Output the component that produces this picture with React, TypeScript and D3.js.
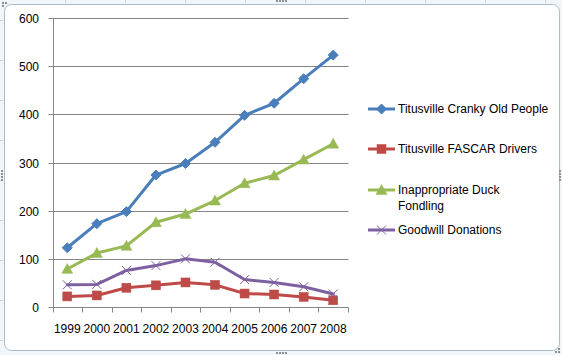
import React from "react";
import * as d3 from "d3";

const years = ["1999", "2000", "2001", "2002", "2003", "2004", "2005", "2006", "2007", "2008"];
const crankyOldPeople = [124, 174, 199, 275, 299, 343, 399, 424, 475, 524];
const fascarDrivers = [23, 25, 41, 46, 52, 47, 29, 27, 22, 15];
const duckFondling = [80, 113, 128, 177, 194, 222, 258, 274, 307, 340];
const goodwillDonations = [47, 48, 77, 87, 101, 94, 58, 52, 43, 28];
const yTicks = [0, 100, 200, 300, 400, 500, 600];

const seriesNames = ["Titusville Cranky Old People", "Titusville FASCAR Drivers", "Inappropriate Duck Fondling", "Goodwill Donations"];
const seriesData = [crankyOldPeople, fascarDrivers, duckFondling, goodwillDonations];
const seriesColors = ["#4A7EBB", "#BE4B48", "#98B954", "#7D60A0"];
const seriesMarkers = ["diamond", "square", "triangle", "x"];
const legendLines = [["Titusville Cranky Old People"], ["Titusville FASCAR Drivers"], ["Inappropriate Duck", "Fondling"], ["Goodwill Donations"]];

const W = 562, H = 355;
const left = 52.5, right = 348, top = 18.5, bottom = 307.5;
const FONT = "'Liberation Sans', Arial, sans-serif";

function Marker({ kind, x, y, color }: { kind: string; x: number; y: number; color: string }) {
  if (kind === "diamond") {
    const r = 5;
    return <path d={`M${x},${y - r}L${x + r},${y}L${x},${y + r}L${x - r},${y}Z`} fill={color} stroke={color} strokeWidth={1} />;
  }
  if (kind === "square") {
    const r = 4.5;
    return <rect x={x - r} y={y - r} width={2 * r} height={2 * r} fill={color} stroke={color} strokeWidth={0.5} />;
  }
  if (kind === "triangle") {
    const r = 5.5;
    return <path d={`M${x},${y - r}L${x + r},${y + r * 0.8}L${x - r},${y + r * 0.8}Z`} fill={color} stroke={color} strokeWidth={0.5} />;
  }
  const r = 4.5;
  return <path d={`M${x - r},${y - r}L${x + r},${y + r}M${x + r},${y - r}L${x - r},${y + r}`} stroke={color} strokeWidth={1} fill="none" />;
}

export default function App() {
  const x = d3.scaleBand<string>().domain(years).range([left, right]).paddingInner(0).paddingOuter(0);
  const y = d3.scaleLinear().domain([0, 600]).range([bottom, top]);
  const cx = (yr: string) => (x(yr) as number) + x.bandwidth() / 2;
  const line = d3.line<number>().x((_, i) => cx(years[i])).y((v) => y(v));
  const ry = (v: number) => Math.round(y(v) - 0.5) + 0.5;
  const bounds = years.map((yr) => Math.round(x(yr) as number) + 0.5).concat([Math.round(right) + 0.5]);

  const legendY = [109, 149, 190, 230];

  return (
    <div style={{ position: "absolute", left: 0, top: 0 }}>
      <svg width={W} height={H} style={{ display: "block" }} fontFamily={FONT}>
        <rect x={0} y={0} width={W} height={H} fill="#f3f6f9" />
        {/* spreadsheet grid hints */}
        {[65, 125, 185, 245, 305, 365, 425, 485, 545].map((gx) => (
          <line key={gx} x1={gx + 0.5} x2={gx + 0.5} y1={0} y2={3} stroke="#c9d4df" />
        ))}
        {[20, 60, 100, 140, 180, 220, 260, 300, 340].map((gy) => (
          <line key={gy} x1={0} x2={3} y1={gy + 0.5} y2={gy + 0.5} stroke="#c9d4df" />
        ))}
        <rect x={4.5} y={4.5} width={555} height={346} rx={7} ry={7} fill="#ffffff" stroke="#a9bccd" strokeWidth={1} />
        {/* handles */}
        {[0, 3, 6, 9].map((d) => (
          <rect key={"t" + d} x={276 + d} y={0} width={2} height={2} fill="#8a8f96" />
        ))}
        {[0, 3, 6, 9].map((d) => (
          <rect key={"b" + d} x={276 + d} y={352} width={2} height={2} fill="#8a8f96" />
        ))}
        {[0, 3, 6, 9].map((d) => (
          <rect key={"l" + d} x={1} y={170 + d} width={2} height={2} fill="#8a8f96" />
        ))}
        {[0, 3, 6, 9].map((d) => (
          <rect key={"r" + d} x={559} y={170 + d} width={2} height={2} fill="#8a8f96" />
        ))}
        <rect x={2} y={2} width={2} height={2} fill="#8a8f96" />
        <rect x={5} y={2} width={2} height={2} fill="#8a8f96" />
        <rect x={2} y={5} width={2} height={2} fill="#8a8f96" />
        <rect x={558} y={351} width={2} height={2} fill="#8a8f96" />
        <rect x={555} y={351} width={2} height={2} fill="#8a8f96" />
        <rect x={558} y={348} width={2} height={2} fill="#8a8f96" />

        {/* gridlines and y ticks */}
        {yTicks.map((t) => (
          <g key={t}>
            <line x1={Math.round(left) - 4.5} x2={Math.round(right) + 0.5} y1={ry(t)} y2={ry(t)} stroke="#868686" strokeWidth={1} />
            <text x={39} y={ry(t) + 4} textAnchor="end" fontSize={12} fill="#000">{t}</text>
          </g>
        ))}
        {/* y axis */}
        <line x1={Math.round(left) + 0.5} x2={Math.round(left) + 0.5} y1={ry(600)} y2={ry(0)} stroke="#868686" />
        {/* x axis ticks */}
        {bounds.map((bx, i) => (
          <line key={i} x1={bx} x2={bx} y1={ry(0)} y2={ry(0) + 5} stroke="#868686" />
        ))}
        {years.map((yr) => (
          <text key={yr} x={cx(yr)} y={333} textAnchor="middle" fontSize={12} fill="#000">{yr}</text>
        ))}

        {/* series */}
        {seriesData.map((data, si) => (
          <g key={si}>
            <path d={line(data) || ""} fill="none" stroke={seriesColors[si]} strokeWidth={3} strokeLinejoin="round" strokeLinecap="round" />
            {data.map((v, i) => (
              <Marker key={i} kind={seriesMarkers[si]} x={cx(years[i])} y={y(v)} color={seriesColors[si]} />
            ))}
          </g>
        ))}

        {/* legend */}
        {seriesNames.map((name, si) => (
          <g key={name}>
            <line x1={368} x2={395} y1={legendY[si]} y2={legendY[si]} stroke={seriesColors[si]} strokeWidth={3} />
            <Marker kind={seriesMarkers[si]} x={381.5} y={legendY[si]} color={seriesColors[si]} />
            {legendLines[si].map((ln, li) => (
              <text key={li} x={398} y={legendY[si] + 4 + li * 16} fontSize={12} fill="#000">{ln}</text>
            ))}
          </g>
        ))}
      </svg>
    </div>
  );
}
